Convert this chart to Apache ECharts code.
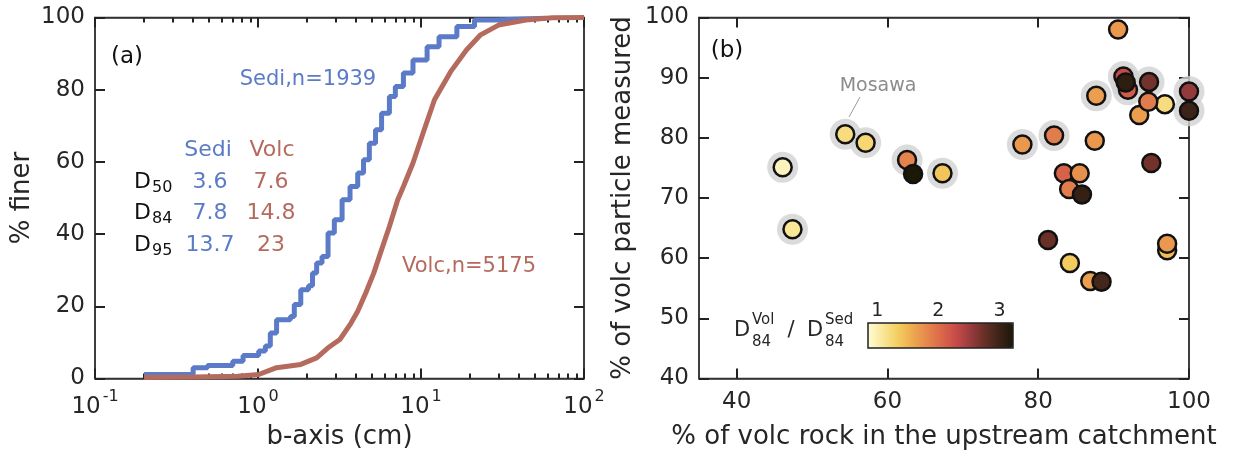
<!DOCTYPE html>
<html><head><meta charset="utf-8">
<script src="https://cdn.jsdelivr.net/npm/echarts@6/dist/echarts.min.js"></script>
<style>html,body{margin:0;padding:0;background:#fff}#c{width:1234px;height:458px}</style>
</head><body><div id="c"></div>
<script>
// ---------- Panel (a): grain-size distributions ----------
const sediX = [0.2, 0.40, 0.49, 0.70, 0.81, 1.01, 1.11, 1.19, 1.30, 1.58, 1.67, 1.83, 2.04, 2.16, 2.29, 2.47, 2.69, 2.94, 3.28, 3.67, 4.09, 4.44, 4.82, 5.26, 5.73, 6.40, 6.96, 7.80, 8.93, 10.9, 12.9, 16.6, 21.3, 28.3, 58];
const sediY = [1.1, 3.0, 3.6, 4.8, 6.4, 7.6, 9.0, 12.6, 16.3, 17.2, 20.5, 24.6, 25.7, 29.2, 32.0, 33.8, 40.3, 44.0, 49.5, 53.2, 56.9, 60.6, 65.2, 68.9, 73.5, 78.1, 80.9, 84.6, 88.2, 91.9, 94.7, 97.5, 99.3, 99.8, 100];
const volcX = [0.2, 0.40, 0.75, 1.01, 1.30, 1.83, 2.29, 2.69, 3.18, 3.67, 4.09, 4.58, 5.13, 5.73, 6.40, 7.2, 7.8, 8.93, 10.3, 12.1, 15.2, 19.0, 23.2, 29.9, 44, 64, 100];
const volcY = [0.3, 0.4, 0.6, 1.1, 3.0, 3.9, 5.7, 8.5, 10.8, 14.9, 18.6, 23.7, 29.2, 35.7, 42.1, 49.5, 53.2, 59.7, 68.0, 77.2, 85.0, 91.0, 95.2, 97.9, 99.3, 99.9, 100];
const dRows = ['50', '84', '95'];
const dSedi = ['3.6', '7.8', '13.7'];
const dVolc = ['7.6', '14.8', '23'];
const nSedi = 1939, nVolc = 5175;

// ---------- Panel (b): catchment vs measured ----------
const catchVolc = [46.1, 47.4, 54.4, 57.1, 62.6, 63.4, 67.3, 77.9, 82.1, 87.5, 87.7, 90.6, 91.3, 91.9, 91.6, 94.7, 96.8, 93.4, 94.6, 100, 100, 95.0, 83.4, 85.5, 84.1, 85.8, 81.3, 84.2, 86.9, 88.4, 97.1, 97.1];
const measVolc  = [75.1, 64.8, 80.6, 79.2, 76.3, 74.0, 74.1, 78.9, 80.4, 79.5, 87.0, 98.0, 90.2, 88.0, 89.2, 89.3, 85.6, 83.8, 86.0, 87.7, 84.5, 75.8, 74.1, 74.1, 71.5, 70.6, 63.0, 59.2, 56.2, 56.1, 61.3, 62.4];
const d84Ratio  = [0.95, 1.1, 1.2, 1.25, 1.85, 3.3, 1.4, 1.7, 1.9, 1.7, 1.65, 1.7, 2.3, 2.15, 3.1, 2.7, 1.2, 1.65, 1.9, 2.55, 3.0, 2.7, 2.1, 1.75, 1.9, 3.05, 2.75, 1.35, 1.65, 2.95, 1.45, 1.7];
const haloFlag  = [1, 1, 1, 1, 1, 0, 1, 1, 1, 0, 1, 0, 1, 1, 1, 1, 0, 0, 0, 1, 1, 0, 0, 0, 0, 0, 0, 0, 0, 0, 0, 0];
const xTicksB = [40, 60, 80, 100];
const cbTicks = [1, 2, 3];
const labelMosawa = 'Mosawa';

const FONT = 'DejaVu Sans';
const TXT = '#262626';
const BLUE = '#5b7bc8';
const BROWN = '#b56a5e';

const chart = echarts.init(document.getElementById('c'));

const sediData = sediX.map((x, i) => [x, sediY[i]]);
const volcData = volcX.map((x, i) => [x, volcY[i]]);
const ptData = catchVolc.map((x, i) => [x, measVolc[i], d84Ratio[i]]);
const haloData = catchVolc.map((x, i) => [x, measVolc[i]]).filter((d, i) => haloFlag[i]);

const minorLog = [];
for (let e = -1; e < 2; e++) for (let m = 2; m <= 9; m++) minorLog.push(+Math.log10(m * Math.pow(10, e)).toFixed(6));

const aLine = () => ({show: true, onZero: false, lineStyle: {color: '#333', width: 1.5}});
const tickIn = (len) => ({show: true, inside: true, length: len, lineStyle: {color: '#222', width: 2}});
const lbl = (extra) => Object.assign({fontSize: 23, fontFamily: FONT, color: TXT, margin: 10}, extra || {});

function supLabel(v) {
  const e = Math.round(Math.log10(v));
  return '{b|10}{s|' + e + '}';
}

chart.setOption({
  animation: false,
  textStyle: {fontFamily: FONT, color: TXT},
  grid: [
    {left: 95, top: 17.5, width: 489, height: 361, show: true, borderColor: '#333', borderWidth: 1.5},
    {left: 699, top: 17.5, width: 490, height: 361, show: true, borderColor: '#333', borderWidth: 1.5}
  ],
  xAxis: [
    {gridIndex: 0, type: 'log', min: 0.1, max: 100, position: 'bottom',
     axisLine: aLine(), axisTick: tickIn(10), splitLine: {show: false},
     axisLabel: {margin: 10, formatter: supLabel, rich: {
       b: {fontSize: 23, fontFamily: FONT, color: TXT, lineHeight: 30, verticalAlign: 'bottom'},
       s: {fontSize: 16, fontFamily: FONT, color: TXT, lineHeight: 16, verticalAlign: 'top', padding: [0, 0, 0, 2]}}},
     name: 'b-axis (cm)', nameLocation: 'middle', nameGap: 46,
     nameTextStyle: {fontSize: 26, fontFamily: FONT, color: TXT}},
    {gridIndex: 0, type: 'log', min: 0.1, max: 100, position: 'top',
     axisLine: aLine(), axisTick: tickIn(10), axisLabel: {show: false}, splitLine: {show: false}},
    {gridIndex: 0, type: 'value', min: -1, max: 2, position: 'bottom',
     axisLine: {show: false, onZero: false}, splitLine: {show: false}, axisLabel: {show: false},
     axisTick: Object.assign(tickIn(5), {customValues: minorLog})},
    {gridIndex: 0, type: 'value', min: -1, max: 2, position: 'top',
     axisLine: {show: false, onZero: false}, splitLine: {show: false}, axisLabel: {show: false},
     axisTick: Object.assign(tickIn(5), {customValues: minorLog})},
    {gridIndex: 1, type: 'value', min: 35, max: 100, position: 'bottom',
     axisLine: aLine(), splitLine: {show: false},
     axisTick: Object.assign(tickIn(10), {customValues: xTicksB}),
     axisLabel: lbl({customValues: xTicksB, margin: 12}),
     name: '% of volc rock in the upstream catchment', nameLocation: 'middle', nameGap: 46,
     nameTextStyle: {fontSize: 26, fontFamily: FONT, color: TXT}},
    {gridIndex: 1, type: 'value', min: 35, max: 100, position: 'top',
     axisLine: aLine(), splitLine: {show: false}, axisLabel: {show: false},
     axisTick: Object.assign(tickIn(10), {customValues: xTicksB})}
  ],
  yAxis: [
    {gridIndex: 0, type: 'value', min: 0, max: 100, interval: 20, position: 'left',
     axisLine: aLine(), axisTick: tickIn(10), splitLine: {show: false}, axisLabel: lbl(),
     name: '% finer', nameLocation: 'middle', nameGap: 60,
     nameTextStyle: {fontSize: 26, fontFamily: FONT, color: TXT}},
    {gridIndex: 0, type: 'value', min: 0, max: 100, interval: 20, position: 'right',
     axisLine: aLine(), axisTick: tickIn(10), splitLine: {show: false}, axisLabel: {show: false}},
    {gridIndex: 1, type: 'value', min: 40, max: 100, interval: 10, position: 'left',
     axisLine: aLine(), axisTick: tickIn(10), splitLine: {show: false}, axisLabel: lbl(),
     name: '% of volc particle measured', nameLocation: 'middle', nameGap: 63,
     nameTextStyle: {fontSize: 26, fontFamily: FONT, color: TXT}},
    {gridIndex: 1, type: 'value', min: 40, max: 100, interval: 10, position: 'right',
     axisLine: aLine(), axisTick: tickIn(10), splitLine: {show: false}, axisLabel: {show: false}}
  ],
  series: [
    {type: 'line', name: 'Sedi', xAxisIndex: 0, yAxisIndex: 0, data: sediData, step: 'end',
     showSymbol: false, lineStyle: {color: BLUE, width: 5}, z: 3},
    {type: 'line', name: 'Volc', xAxisIndex: 0, yAxisIndex: 0, data: volcData,
     showSymbol: false, lineStyle: {color: BROWN, width: 5}, z: 3},
    {type: 'scatter', name: 'halo', xAxisIndex: 4, yAxisIndex: 2, data: haloData,
     symbolSize: 31, itemStyle: {color: '#d2d2d2'}, z: 2, silent: true},
    {type: 'scatter', name: 'sites', xAxisIndex: 4, yAxisIndex: 2, data: ptData,
     symbolSize: 18, itemStyle: {borderColor: '#111', borderWidth: 2.5, opacity: 1}, z: 3}
  ]
});

// colour bar: separate chart-level components added in a second step
chart.setOption({
  grid: [{id: 'cb', left: 868, top: 323, width: 145, height: 25, show: false}],
  xAxis: [{id: 'cbx', gridIndex: 2, type: 'value', min: 0.85, max: 3.22, position: 'top',
     axisLine: {show: false, onZero: false}, splitLine: {show: false},
     axisTick: {show: true, inside: true, length: 8, customValues: cbTicks, lineStyle: {color: '#777', width: 1.5}},
     axisLabel: {customValues: cbTicks, fontSize: 19, fontFamily: FONT, color: TXT, margin: 2}}],
  yAxis: [{id: 'cby', gridIndex: 2, type: 'value', min: 0, max: 1, show: false}],
  visualMap: {
    type: 'continuous', seriesIndex: 3, dimension: 2, min: 0.85, max: 3.22,
    orient: 'horizontal', left: 868, top: 323, itemWidth: 25, itemHeight: 145,
    padding: 0, calculable: false, hoverLink: false,
    inRange: {color: ['#fffcd4', '#f9e79a', '#f4d062', '#eeac50', '#e68a4c', '#db6a4b', '#c94d49', '#9c3c3f', '#6a3028', '#3e2418', '#1c1808']}
  }
});

// annotations
const g = [];
function txt(x, y, s, size, color, align) {
  g.push({type: 'text', x: x, y: y, z: 50, style: {text: s, fontSize: size, fontFamily: FONT, fill: color,
    align: align || 'center', verticalAlign: 'middle'}});
}
txt(127, 57, '(a)', 23, '#111');
txt(308, 80, 'Sedi,n=' + nSedi, 21, BLUE);
txt(469, 267, 'Volc,n=' + nVolc, 21, BROWN);
txt(208, 150, 'Sedi', 22, BLUE);
txt(272, 150, 'Volc', 22, BROWN);
const rowY = [182, 213, 245];
dRows.forEach((r, i) => {
  txt(134, rowY[i], 'D', 22, '#111', 'left');
  txt(152, rowY[i] + 6, r, 16, '#111', 'left');
  txt(210, rowY[i], dSedi[i], 22, BLUE);
  txt(271, rowY[i], dVolc[i], 22, BROWN);
});
txt(727, 51, '(b)', 23, '#111');
txt(878, 86, labelMosawa, 19, '#8c8c8c');
g.push({type: 'line', z: 50, shape: {x1: 860, y1: 97, x2: 849, y2: 117}, style: {stroke: '#9a9a9a', lineWidth: 1}});
txt(734, 331, 'D', 21, TXT, 'left');
txt(752, 320, 'Vol', 15, TXT, 'left');
txt(752, 342, '84', 15, TXT, 'left');
txt(791, 331, '/', 21, TXT);
txt(807, 331, 'D', 21, TXT, 'left');
txt(825, 320, 'Sed', 15, TXT, 'left');
txt(825, 342, '84', 15, TXT, 'left');
g.push({type: 'rect', z: 60, shape: {x: 868, y: 323, width: 145, height: 25}, style: {fill: 'none', stroke: '#222', lineWidth: 1.5}});
chart.setOption({graphic: g});
</script></body></html>
